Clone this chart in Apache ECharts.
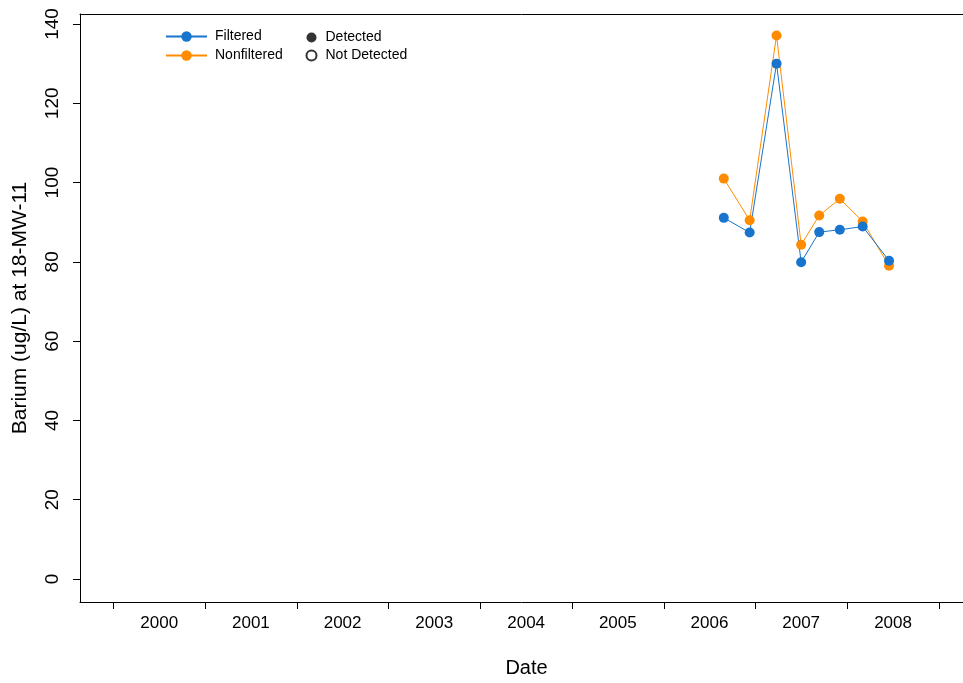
<!DOCTYPE html>
<html>
<head>
<meta charset="utf-8">
<script src="https://cdn.jsdelivr.net/npm/echarts@6/dist/echarts.min.js"></script>
<style>html,body{margin:0;padding:0;background:#fff}#c{width:963px;height:683px}</style>
</head>
<body>
<div id="c"></div>
<script>
// Data
const dates = ['2006-08-28','2006-12-09','2007-03-26','2007-07-02','2007-09-12','2007-12-03','2008-03-03','2008-06-16'];
const filtered = [91.1, 87.4, 130.0, 79.9, 87.5, 88.1, 88.9, 80.3];
const nonfiltered = [101.0, 90.5, 137.1, 84.3, 91.7, 95.9, 90.2, 79.0];
const yearTicks = [2000,2001,2002,2003,2004,2005,2006,2007,2008,2009];
const yearLabels = [2000,2001,2002,2003,2004,2005,2006,2007,2008];
const yTicks = [0,20,40,60,80,100,120,140];

const ts = s => { const p = s.split('-').map(Number); return Date.UTC(p[0], p[1]-1, p[2]); };
const DAY = 86400000;
const tickVals = yearTicks.map(y => Date.UTC(y,0,1));
const labelVals = yearLabels.map(y => Date.UTC(y,6,2));

const blue = '#1874CD', orange = '#FF8C00';
const font = 'Liberation Sans, Arial, sans-serif';
const xMin = Date.UTC(2000,0,1) - 132.6*DAY;
const xMax = Date.UTC(2009,0,1) + 95.5*DAY;

const chart = echarts.init(document.getElementById('c'), null, {renderer:'canvas'});
chart.setOption({
  animation: false,
  backgroundColor: '#fff',
  textStyle: {fontFamily: font, color: '#000'},
  grid: {left: 80, top: 14, right: 0, bottom: 81, show: false},
  legend: [{
    orient: 'vertical', left: 165, top: 28, padding: 0, itemWidth: 41, itemHeight: 13, itemGap: 2,
    data: ['Filtered','Nonfiltered'],
    textStyle: {fontFamily: font, fontSize: 14, color: '#000', lineHeight: 14, padding: [3,0,0,3]}
  },{
    orient: 'vertical', left: 305.5, top: 29, padding: 0, itemWidth: 10, itemHeight: 10, itemGap: 1,
    data: ['Detected','Not Detected'],
    textStyle: {fontFamily: font, fontSize: 14, color: '#000', lineHeight: 14, padding: [3,0,0,4]}
  }],
  xAxis: [{
    type: 'value', min: xMin, max: xMax,
    name: 'Date', nameLocation: 'middle', nameGap: 56,
    nameTextStyle: {fontFamily: font, fontSize: 20, color: '#000', padding: [0,0,0,10]},
    axisLine: {show: true, onZero: false, lineStyle: {color: '#000', width: 1}},
    axisTick: {show: true, length: 7, lineStyle: {color: '#000'}, customValues: tickVals},
    axisLabel: {customValues: labelVals, fontFamily: font, fontSize: 17, color: '#000', margin: 13,
      formatter: v => String(new Date(v).getUTCFullYear())},
    splitLine: {show: false}, minorTick: {show: false}
  },{
    type: 'value', position: 'top', min: xMin, max: xMax,
    axisLine: {show: true, onZero: false, lineStyle: {color: '#000', width: 1}},
    axisTick: {show: false}, axisLabel: {show: false}, splitLine: {show: false}
  }],
  yAxis: {
    type: 'value', min: -5.8, max: 142.52,
    name: 'Barium (ug/L) at 18-MW-11', nameLocation: 'middle', nameGap: 49, nameRotate: 90,
    nameTextStyle: {fontFamily: font, fontSize: 21, color: '#000'},
    axisLine: {show: true, onZero: false, lineStyle: {color: '#000', width: 1}},
    axisTick: {show: true, length: 7, lineStyle: {color: '#000'}, customValues: yTicks},
    axisLabel: {customValues: yTicks, rotate: 90, fontFamily: font, fontSize: 19, color: '#000', margin: 18},
    splitLine: {show: false}
  },
  series: [
    {name: 'Nonfiltered', type: 'line', data: dates.map((d,i) => [ts(d), nonfiltered[i]]),
     symbol: 'circle', symbolSize: 10, showSymbol: true,
     lineStyle: {color: orange, width: 1}, itemStyle: {color: orange}},
    {name: 'Filtered', type: 'line', data: dates.map((d,i) => [ts(d), filtered[i]]),
     symbol: 'circle', symbolSize: 10, showSymbol: true,
     lineStyle: {color: blue, width: 1}, itemStyle: {color: blue}},
    {name: 'Detected', type: 'scatter', data: [], symbol: 'circle', itemStyle: {color: '#000'}},
    {name: 'Not Detected', type: 'scatter', data: [], symbol: 'circle', itemStyle: {color: '#fff', borderColor: '#000', borderWidth: 1}}
  ]
});
</script>
</body>
</html>
